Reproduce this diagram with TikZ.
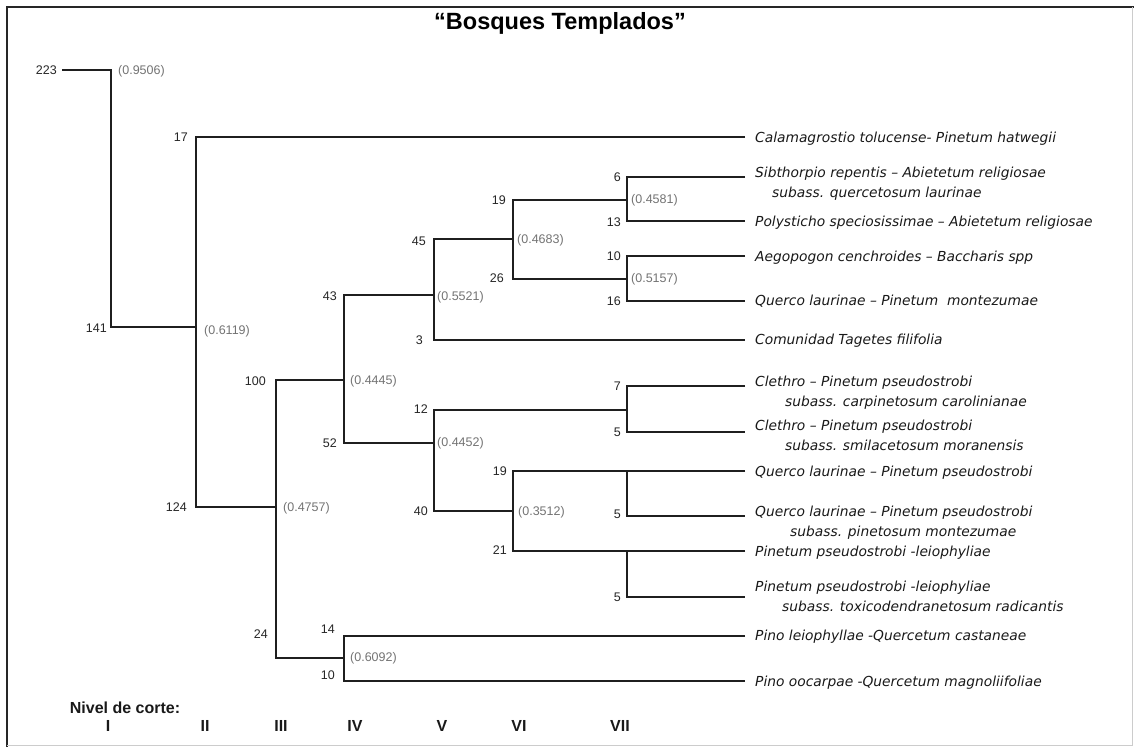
\documentclass[tikz,border=0pt]{standalone}
\usepackage{fontspec}
\setmainfont{Liberation Sans}
\newfontfamily\assocfont{DejaVu Sans}

\begin{document}
\begin{tikzpicture}[
  x=1pt, y=-1pt,
  branch/.style={line width=2.2pt, black!88, line join=miter},
  cnt/.style={anchor=east, inner sep=0pt, font=\fontsize{12.5}{14}\selectfont, text=black!85},
  sim/.style={anchor=west, inner sep=0pt, font=\fontsize{12.5}{14}\selectfont, text=black!55},
  assoc/.style={anchor=base west, inner sep=0pt, align=left, text=black!90,
                font=\assocfont\itshape\fontsize{13.8}{19.5}\selectfont},
  nivel/.style={inner sep=0pt, font=\bfseries\fontsize{16}{18}\selectfont, text=black!90},
]
  \useasboundingbox (0,0) rectangle (1134,747);
  % frame
  \draw[line width=2.5pt, black!85] (7,747) -- (7,7) -- (1134,7);
  \draw[line width=1pt, black!20] (7,745.5) -- (1132.5,745.5) -- (1132.5,7);
  \node[inner sep=0pt, font=\bfseries\fontsize{23.5}{26}\selectfont] (title) at (560,23) {“Bosques Templados”};

  % points where clusters join their vertical bars
  \coordinate (r0) at (62,70);
  \coordinate (a1) at (111,70);
  \coordinate (k141) at (196,327);
  \coordinate (k124) at (276,507);
  \coordinate (k100) at (344,380);
  \coordinate (k24) at (344,658);
  \coordinate (k43) at (434,295);
  \coordinate (k52) at (434,443);
  \coordinate (k45) at (513,239);
  \coordinate (k19a) at (627,200);
  \coordinate (k26) at (627,279);
  \coordinate (k12) at (627,410);
  \coordinate (k40) at (513,511);
  \coordinate (k19b) at (627,471);
  \coordinate (k21) at (627,551);

  % leaf ends
  \coordinate (f17) at (745,137);
  \coordinate (f6) at (745,177);
  \coordinate (f13) at (745,221);
  \coordinate (f10a) at (745,256);
  \coordinate (f16) at (745,301);
  \coordinate (f3) at (745,340);
  \coordinate (f7) at (745,386);
  \coordinate (f5a) at (745,432);
  \coordinate (f19b) at (745,471);
  \coordinate (f5b) at (745,516);
  \coordinate (f21) at (745,551);
  \coordinate (f5c) at (745,597);
  \coordinate (f14) at (745,636);
  \coordinate (f10b) at (745,681);

  % dendrogram
  \draw[branch] (r0) -- (a1) |- (k141);
  \draw[branch] (f17) -| (k141) |- (k124);
  \draw[branch] (k100) -| (k124) |- (k24);
  \draw[branch] (k43) -| (k100) |- (k52);
  \draw[branch] (k45) -| (k43) |- (f3);
  \draw[branch] (k19a) -| (k45) |- (k26);
  \draw[branch] (f6) -| (k19a) |- (f13);
  \draw[branch] (f10a) -| (k26) |- (f16);
  \draw[branch] (k12) -| (k52) |- (k40);
  \draw[branch] (f7) -| (k12) |- (f5a);
  \draw[branch] (k19b) -| (k40) |- (k21);
  \draw[branch] (f19b) -- (k19b) |- (f5b);
  \draw[branch] (f21) -- (k21) |- (f5c);
  \draw[branch] (f14) -| (k24) |- (f10b);

  % group sizes
  \node[cnt] (c223) at (57,70) {223};
  \node[cnt] (c141) at (107,328) {141};
  \node[cnt] (c17) at (188,137) {17};
  \node[cnt] (c124) at (187,507) {124};
  \node[cnt] (c100) at (266,381) {100};
  \node[cnt] (c24) at (268,634) {24};
  \node[cnt] (c43) at (337,296) {43};
  \node[cnt] (c52) at (337,443) {52};
  \node[cnt] (c14) at (335,629) {14};
  \node[cnt] (c10b) at (335,675) {10};
  \node[cnt] (c45) at (426,241) {45};
  \node[cnt] (c3) at (423,340) {3};
  \node[cnt] (c19a) at (506,200) {19};
  \node[cnt] (c26) at (504,278) {26};
  \node[cnt] (c6) at (621,177) {6};
  \node[cnt] (c13) at (621,222) {13};
  \node[cnt] (c10a) at (621,256) {10};
  \node[cnt] (c16) at (621,301) {16};
  \node[cnt] (c12) at (428,409) {12};
  \node[cnt] (c40) at (428,511) {40};
  \node[cnt] (c7) at (621,386) {7};
  \node[cnt] (c5a) at (621,432) {5};
  \node[cnt] (c19b) at (507,471) {19};
  \node[cnt] (c5b) at (621,514) {5};
  \node[cnt] (c21) at (507,550) {21};
  \node[cnt] (c5c) at (621,597) {5};

  % similarity at each join
  \node[sim] (s223) at (118,71) {(0.9506)};
  \node[sim] (s141) at (204,331) {(0.6119)};
  \node[sim] (s100) at (350,381) {(0.4445)};
  \node[sim] (s124) at (283,508) {(0.4757)};
  \node[sim] (s24) at (350,658) {(0.6092)};
  \node[sim] (s43) at (437,297) {(0.5521)};
  \node[sim] (s45) at (517,240) {(0.4683)};
  \node[sim] (s19a) at (631,200) {(0.4581)};
  \node[sim] (s26) at (631,279) {(0.5157)};
  \node[sim] (s52) at (437,443) {(0.4452)};
  \node[sim] (s40) at (518,512) {(0.3512)};

  % associations (base = last line)
  \node[assoc] (t17) at (755,142) {Calamagrostio tolucense- Pinetum hatwegii};
  \node[assoc] (t6) at (755,197) {Sibthorpio repentis – Abietetum religiosae\\\hspace*{17pt}subass. quercetosum laurinae};
  \node[assoc] (t13) at (755,226) {Polysticho speciosissimae – Abietetum religiosae};
  \node[assoc] (t10a) at (755,261) {Aegopogon cenchroides – Baccharis spp};
  \node[assoc] (t16) at (755,305) {Querco laurinae – Pinetum~ montezumae};
  \node[assoc] (t3) at (755,344) {Comunidad Tagetes filifolia};
  \node[assoc] (t7) at (755,406) {Clethro – Pinetum pseudostrobi\\\hspace*{30pt}subass. carpinetosum carolinianae};
  \node[assoc] (t5a) at (755,450) {Clethro – Pinetum pseudostrobi\\\hspace*{30pt}subass. smilacetosum moranensis};
  \node[assoc] (t19b) at (755,476) {Querco laurinae – Pinetum pseudostrobi};
  \node[assoc] (t5b) at (755,536) {Querco laurinae – Pinetum pseudostrobi\\\hspace*{35pt}subass. pinetosum montezumae};
  \node[assoc] (t21) at (755,556) {Pinetum pseudostrobi -leiophyliae};
  \node[assoc] (t5c) at (755,611) {Pinetum pseudostrobi -leiophyliae\\\hspace*{27pt}subass. toxicodendranetosum radicantis};
  \node[assoc] (t14) at (755,640) {Pino leiophyllae -Quercetum castaneae};
  \node[assoc] (t10b) at (755,686) {Pino oocarpae -Quercetum magnoliifoliae};

  % cut levels
  \node[nivel] (corte) at (125,708) {Nivel de corte:};
  \node[nivel] (lvI) at (108,726) {I};
  \node[nivel] (lvII) at (205,726) {II};
  \node[nivel] (lvIII) at (281,726) {III};
  \node[nivel] (lvIV) at (355,726) {IV};
  \node[nivel] (lvV) at (442,726) {V};
  \node[nivel] (lvVI) at (519,726) {VI};
  \node[nivel] (lvVII) at (620,726) {VII};
\end{tikzpicture}
\end{document}
